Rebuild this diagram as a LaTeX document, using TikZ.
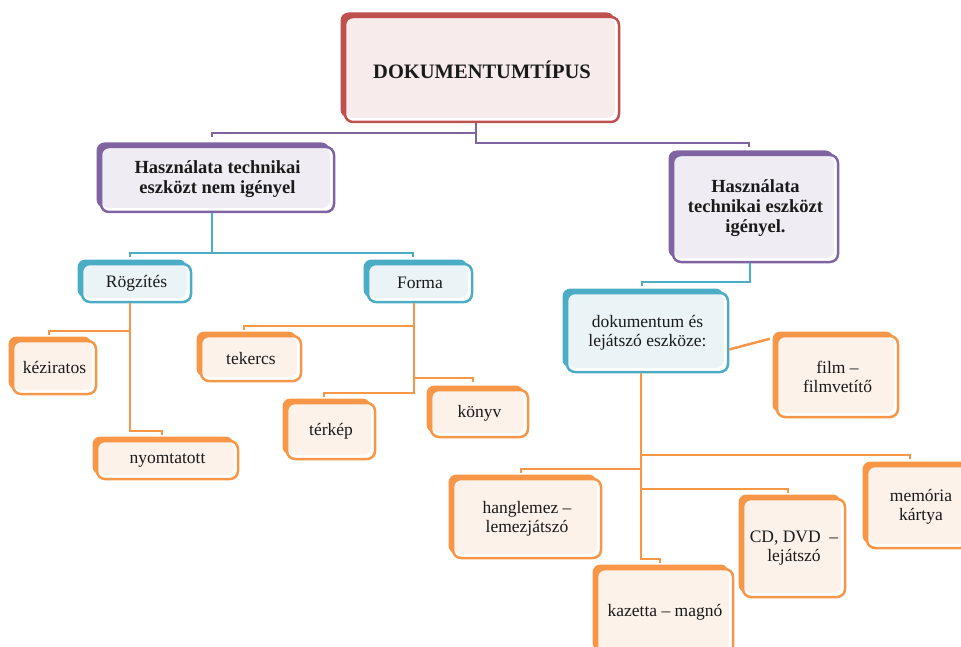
\documentclass[tikz,border=0pt]{standalone}
\usepackage{fontspec}
\setmainfont{Liberation Serif}
\usetikzlibrary{shadows}
\definecolor{redC}{HTML}{C0504D}\definecolor{redL}{HTML}{F7EBEB}
\definecolor{purC}{HTML}{8064A2}\definecolor{purL}{HTML}{EFEDF3}
\definecolor{tealC}{HTML}{4BACC6}\definecolor{tealL}{HTML}{EAF4F7}
\definecolor{oraC}{HTML}{F79646}\definecolor{oraL}{HTML}{FDF2E9}
\definecolor{txt}{HTML}{1A1A1A}
\tikzset{
  basebox/.style={rounded corners=8pt, line width=2.5pt, align=center, inner sep=0pt, fill=white, text=txt},
  cbox/.style 2 args={basebox, draw=#1,
    general shadow={fill=#1, shadow xshift=-4.5pt, shadow yshift=4.5pt},
    path picture={\fill[#2] (path picture bounding box.north west) rectangle ([shift={(-4pt,4pt)}]path picture bounding box.south east);}},
  redbox/.style={cbox={redC}{redL}},
  purbox/.style={cbox={purC}{purL}, font=\bfseries\fontsize{18.5}{20}\selectfont},
  tealbox/.style={cbox={tealC}{tealL}, font=\fontsize{17.5}{19}\selectfont},
  orabox/.style={cbox={oraC}{oraL}, font=\fontsize{17.5}{19}\selectfont},
  pline/.style={draw=purC, line width=2.5pt},
  tline/.style={draw=tealC, line width=2.5pt},
  oline/.style={draw=oraC, line width=2.5pt},
}
\begin{document}
\begin{tikzpicture}[x=1pt,y=-1pt]
\useasboundingbox (0,0) rectangle (961,647);
\clip (0,0) rectangle (961,647);
% boxes
\node[redbox, minimum width=274pt, minimum height=105pt, font=\bfseries\fontsize{20.5}{22}\selectfont] (doc) at (482,69.5) {DOKUMENTUMTÍPUS};
\node[purbox, minimum width=233pt, minimum height=65pt] (lp) at (217.5,179.5) {Használata technikai\\eszközt nem igényel};
\node[purbox, minimum width=165pt, minimum height=107pt] (rp) at (755.5,208.5) {Használata\\technikai eszközt\\igényel.};
\node[tealbox, minimum width=109pt, minimum height=38pt] (rog) at (136.5,283) {Rögzítés};
\node[tealbox, minimum width=104pt, minimum height=38pt] (forma) at (420,283) {Forma};
\node[tealbox, minimum width=161pt, minimum height=79pt] (dok) at (647.5,332.5) {dokumentum és\\lejátszó eszköze:};
\node[orabox, minimum width=83pt, minimum height=53pt] (kez) at (54.5,367.5) {kéziratos};
\node[orabox, minimum width=141pt, minimum height=38pt] (nyom) at (167.5,460) {nyomtatott};
\node[orabox, minimum width=100pt, minimum height=45pt] (tek) at (251,358.5) {tekercs};
\node[orabox, minimum width=88pt, minimum height=56pt] (terk) at (331,431) {térkép};
\node[orabox, minimum width=97pt, minimum height=47pt] (konyv) at (479.5,413.5) {könyv};
\node[orabox, minimum width=121pt, minimum height=81pt] (film) at (837.5,376.5) {film –\\filmvetítő};
\node[orabox, minimum width=148pt, minimum height=79pt] (hang) at (527,518.5) {hanglemez –\\lemezjátszó};
\node[orabox, minimum width=136pt, minimum height=86pt] (kaz) at (665,612) {kazetta – magnó};
\node[orabox, minimum width=102pt, minimum height=98pt] (cd) at (794,548) {CD, DVD~~–\\lejátszó};
\node[orabox, minimum width=118pt, minimum height=82pt, text width=110pt] (mem) at (926,507) {\hspace*{-10pt}memória\\\hspace*{-10pt}kártya};
% tick end coordinates
\coordinate (lpT) at (212,137);
\coordinate (rpT) at (749,147);
\coordinate (rogT) at (130,257);
\coordinate (formaT) at (413,257);
\coordinate (dokT) at (642,286);
\coordinate (kezT) at (49,335);
\coordinate (nyomT) at (162,435);
\coordinate (tekT) at (244,330);
\coordinate (konyvT) at (473,382);
\coordinate (terkT) at (324,397);
\coordinate (memT) at (910,459);
\coordinate (hangT) at (521,473);
\coordinate (cdT) at (788,493);
\coordinate (kazT) at (660,563);
% purple connectors
\draw[pline] (doc.south -| 476,0) |- ([yshift=4pt]lpT) -- (lpT);
\draw[pline] (doc.south -| 476,0) |- ([yshift=4pt]rpT) -- (rpT);
% teal connectors
\draw[tline] (lp.south -| 212,0) |- ([yshift=4pt]rogT) -- (rogT);
\draw[tline] (lp.south -| 212,0) |- ([yshift=4pt]formaT) -- (formaT);
\draw[tline] (rp.south -| 750,0) |- ([yshift=4pt]dokT) -- (dokT);
% orange connectors
\draw[oline] (rog.south -| 130,0) |- ([yshift=4pt]kezT) -- (kezT);
\draw[oline] (rog.south -| 130,0) |- ([yshift=4pt]nyomT) -- (nyomT);
\draw[oline] (forma.south -| 414,0) |- ([yshift=4pt]tekT) -- (tekT);
\draw[oline] (forma.south -| 414,0) |- ([yshift=4pt]konyvT) -- (konyvT);
\draw[oline] (forma.south -| 414,0) |- ([yshift=4pt]terkT) -- (terkT);
\draw[oline] (dok.south -| 641,0) |- ([yshift=4pt]memT) -- (memT);
\draw[oline] (dok.south -| 641,0) |- ([yshift=4pt]hangT) -- (hangT);
\draw[oline] (dok.south -| 641,0) |- ([yshift=4pt]cdT) -- (cdT);
\draw[oline] (dok.south -| 641,0) |- ([yshift=4pt]kazT) -- (kazT);
\draw[oline] ([yshift=-17pt]dok.east) -- ([shift={(-6pt,-4pt)}]film.north west);
\end{tikzpicture}
\end{document}
